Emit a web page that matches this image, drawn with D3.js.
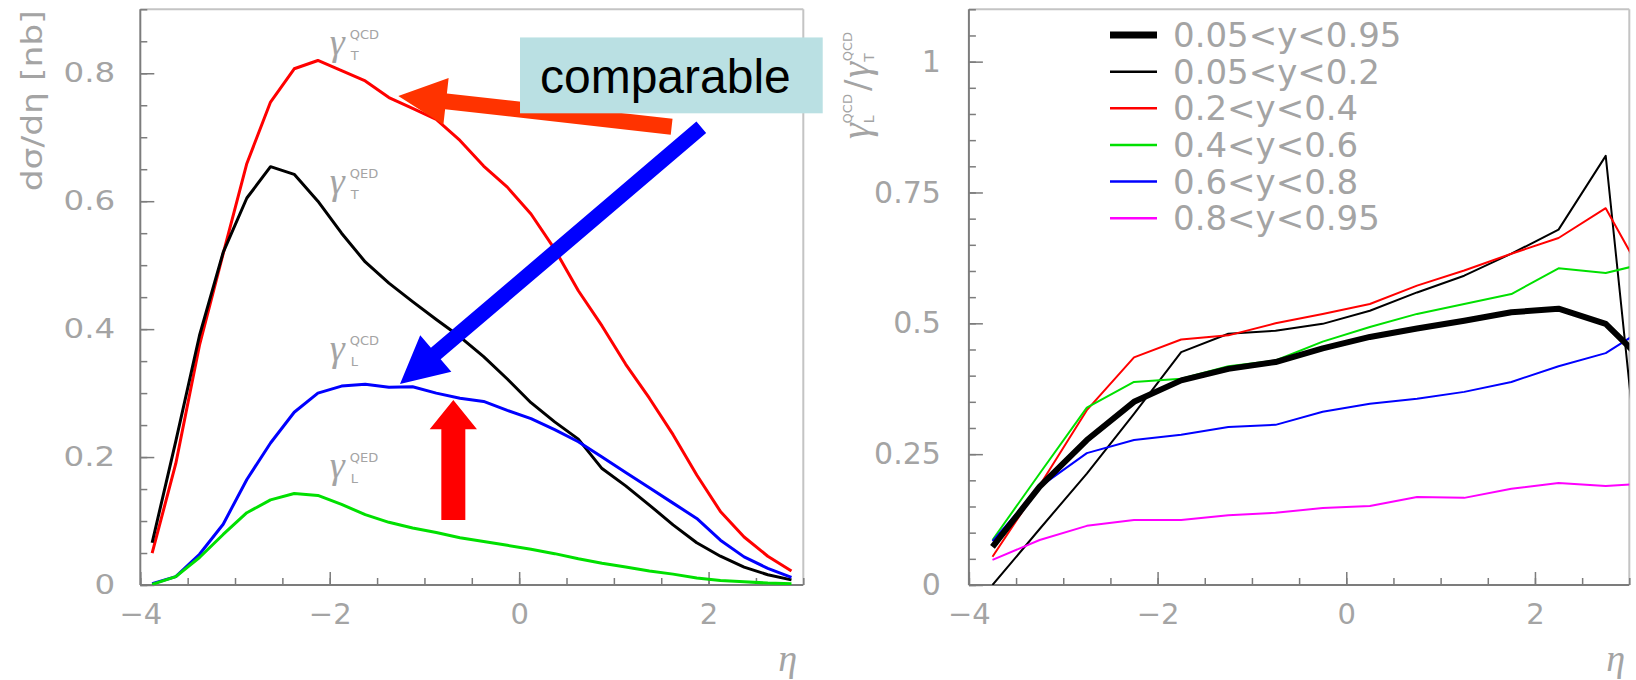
<!DOCTYPE html>
<html><head><meta charset="utf-8">
<script src="https://cdn.jsdelivr.net/npm/d3@7"></script>
<style>html,body{margin:0;padding:0;background:#fff;} svg{display:block;}</style>
</head><body>
<svg id="c" width="1636" height="680"></svg>
<script>
// ---------------- DATA ----------------
// Left panel: d sigma / d eta [nb] vs eta (bin centres)
const etaL = [-3.875,-3.625,-3.375,-3.125,-2.875,-2.625,-2.375,-2.125,-1.875,-1.625,-1.375,-1.125,-0.875,-0.625,-0.375,-0.125,0.125,0.375,0.625,0.875,1.125,1.375,1.625,1.875,2.125,2.375,2.625,2.875];
const gammaT_QCD = [0.05,0.19,0.375,0.518,0.659,0.755,0.807,0.82,0.804,0.788,0.762,0.745,0.728,0.695,0.655,0.622,0.58,0.525,0.46,0.405,0.345,0.292,0.235,0.172,0.115,0.075,0.045,0.022];
const gammaT_QED = [0.066,0.225,0.39,0.52,0.605,0.654,0.642,0.60,0.55,0.505,0.472,0.443,0.415,0.388,0.357,0.322,0.285,0.255,0.228,0.182,0.155,0.125,0.094,0.066,0.045,0.028,0.016,0.008];
const gammaL_QCD = [0.002,0.013,0.048,0.095,0.165,0.222,0.27,0.30,0.311,0.314,0.309,0.31,0.30,0.292,0.287,0.273,0.26,0.243,0.224,0.20,0.176,0.152,0.128,0.104,0.07,0.044,0.026,0.012];
const gammaL_QED = [0.001,0.013,0.043,0.079,0.113,0.133,0.143,0.14,0.126,0.11,0.098,0.089,0.082,0.074,0.068,0.062,0.056,0.049,0.041,0.034,0.028,0.022,0.017,0.011,0.007,0.005,0.003,0.002];
const curveNamesL = ["T_QCD","T_QED","L_QCD","L_QED"];
const curveLabelSub = ["T","T","L","L"];
const curveLabelSup = ["QCD","QED","QCD","QED"];

// Right panel: ratio gamma_L^QCD / gamma_T^QCD for y bins
const etaR = [-3.75,-3.25,-2.75,-2.25,-1.75,-1.25,-0.75,-0.25,0.25,0.75,1.25,1.75,2.25,2.75,3.25];
const ratio_all   = [0.073,0.188,0.277,0.35,0.391,0.413,0.426,0.452,0.474,0.49,0.505,0.521,0.528,0.499,0.41];
const ratio_y005  = [0.0,0.107,0.213,0.327,0.445,0.48,0.486,0.499,0.524,0.559,0.591,0.633,0.679,0.82,-0.05];
const ratio_y02   = [0.054,0.19,0.334,0.435,0.469,0.477,0.50,0.518,0.537,0.572,0.601,0.633,0.663,0.72,0.558];
const ratio_y04   = [0.086,0.213,0.339,0.388,0.394,0.418,0.429,0.465,0.493,0.518,0.537,0.556,0.605,0.596,0.618];
const ratio_y06   = [0.084,0.1875,0.252,0.277,0.287,0.302,0.306,0.331,0.3465,0.356,0.369,0.388,0.418,0.443,0.50];
const ratio_y08   = [0.048,0.086,0.113,0.124,0.124,0.1335,0.138,0.147,0.151,0.168,0.1665,0.184,0.195,0.189,0.195];
const legendLabels = ["0.05<y<0.95","0.05<y<0.2","0.2<y<0.4","0.4<y<0.6","0.6<y<0.8","0.8<y<0.95"];

// Axes / tick labels
const xDomain = [-4, 3];
const xMajorTicks = [-4, -2, 0, 2];
const yDomainL = [0, 0.9];
const yMajorTicksL = [0, 0.2, 0.4, 0.6, 0.8];
const yDomainR = [0, 1.1];
const yMajorTicksR = [0, 0.25, 0.5, 0.75, 1];
const annotationText = "comparable";

// ---------------- DRAWING ----------------
const svg = d3.select("#c");
const TXT = "#a4a4a4";
const AX = "#7c7c7c";
const FR = "#c4c4c4";

const PL = {x0:140.3, x1:803.3, y0:585, y1:9.3};
const PR = {x0:968.9, x1:1629.3, y0:585, y1:9.3};

const xL = d3.scaleLinear().domain(xDomain).range([PL.x0, PL.x1]);
const yL = d3.scaleLinear().domain(yDomainL).range([PL.y0, PL.y1]);
const xR = d3.scaleLinear().domain(xDomain).range([PR.x0, PR.x1]);
const yR = d3.scaleLinear().domain(yDomainR).range([PR.y0, PR.y1]);

const defs = svg.append("defs");
function clip(id, P){
  defs.append("clipPath").attr("id", id).append("rect")
    .attr("x", P.x0).attr("y", P.y1).attr("width", P.x1-P.x0).attr("height", P.y0-P.y1);
}
clip("clipL", PL); clip("clipR", PR);

function drawFrame(P){
  svg.append("line").attr("x1",P.x0).attr("x2",P.x1).attr("y1",P.y1).attr("y2",P.y1)
    .attr("stroke",FR).attr("stroke-width",2);
  svg.append("line").attr("x1",P.x1).attr("x2",P.x1).attr("y1",P.y1).attr("y2",P.y0)
    .attr("stroke",FR).attr("stroke-width",2);
}

function drawAxes(x, y, P, yMajor, yMinorStep, yLabelFont, yLabelScale, yPad, yFmt){
  const xMinor = d3.range(xDomain[0], xDomain[1]+1e-9, 0.5);
  const yMinor = d3.range(y.domain()[0], y.domain()[1]+1e-9, yMinorStep);
  const gxm = svg.append("g").attr("transform",`translate(0,${P.y0})`)
    .call(d3.axisBottom(x).tickValues(xMinor).tickSize(-7).tickFormat(""));
  gxm.select(".domain").remove();
  const gym = svg.append("g").attr("transform",`translate(${P.x0},0)`)
    .call(d3.axisLeft(y).tickValues(yMinor).tickSize(-7).tickFormat(""));
  gym.select(".domain").remove();
  const gx = svg.append("g").attr("transform",`translate(0,${P.y0})`)
    .call(d3.axisBottom(x).tickValues(xMajorTicks).tickSizeInner(-13).tickSizeOuter(0)
      .tickPadding(18).tickFormat(d3.format("")));
  gx.select(".domain").remove();
  const gy = svg.append("g").attr("transform",`translate(${P.x0},0)`)
    .call(d3.axisLeft(y).tickValues(yMajor).tickSizeInner(-14).tickSizeOuter(0)
      .tickPadding(yPad).tickFormat(yFmt));
  gy.select(".domain").remove();
  [gxm,gym,gx,gy].forEach(g=>g.selectAll("line").attr("stroke",AX).attr("stroke-width",1.5));
  gx.selectAll("text").attr("fill",TXT).attr("font-family","DejaVu Sans").attr("font-size",29);
  gy.selectAll("text").attr("fill",TXT).attr("font-family","DejaVu Sans").attr("font-size",yLabelFont)
    .attr("x",0).attr("transform",`translate(${-yPad},0) scale(${yLabelScale[0]},${yLabelScale[1]})`);
  svg.append("line").attr("x1",P.x0).attr("x2",P.x1).attr("y1",P.y0).attr("y2",P.y0)
    .attr("stroke",AX).attr("stroke-width",2);
  svg.append("line").attr("x1",P.x0).attr("x2",P.x0).attr("y1",P.y0).attr("y2",P.y1)
    .attr("stroke",AX).attr("stroke-width",2);
}

drawFrame(PL); drawFrame(PR);
drawAxes(xL, yL, PL, yMajorTicksL, 0.05, 26, [1.25,1], 25, d3.format("~g"));
drawAxes(xR, yR, PR, yMajorTicksR, 0.05, 30, [1,1], 28, d3.format("~g"));

// eta axis titles
function etaTitle(xp, yp){
  svg.append("text").attr("x",xp).attr("y",yp).text("η")
    .attr("font-family","Liberation Serif").attr("font-style","italic")
    .attr("font-size",38).attr("fill",TXT);
}
etaTitle(xL(3)-25, 671);
etaTitle(xR(3)-23, 671);

// left y title
svg.append("text").attr("transform",`translate(41.5,${PL.y1+182}) rotate(-90)`)
  .attr("font-family","DejaVu Sans").attr("font-size",28).attr("fill",TXT)
  .attr("textLength",181).attr("lengthAdjust","spacingAndGlyphs")
  .text("dσ/dη [nb]");

// right y title
{
  const t = svg.append("text").attr("transform",`translate(869,139) rotate(-90)`)
    .attr("fill",TXT).attr("font-family","DejaVu Sans");
  t.append("tspan").attr("font-family","Liberation Serif").attr("font-style","italic").attr("font-size",40).text("γ");
  t.append("tspan").attr("font-size",14).attr("dy",5).text("L");
  t.append("tspan").attr("font-size",13).attr("dx",-8).attr("dy",-22).text("QCD");
  t.append("tspan").attr("font-size",34).attr("dx",3).attr("dy",17).text("/");
  t.append("tspan").attr("font-family","Liberation Serif").attr("font-style","italic").attr("font-size",40).attr("dx",2).text("γ");
  t.append("tspan").attr("font-size",14).attr("dy",5).text("T");
  t.append("tspan").attr("font-size",13).attr("dx",-8).attr("dy",-22).text("QCD");
}

// ---- Left curves
const colorsL = ["#ff0000","#000000","#0000ff","#00e000"];
const seriesL = [gammaT_QCD, gammaT_QED, gammaL_QCD, gammaL_QED];
const lineL = d3.line().x((d,i)=>xL(etaL[i])).y(d=>yL(d));
const gL = svg.append("g").attr("clip-path","url(#clipL)");
seriesL.forEach((s,k)=>{
  gL.append("path").attr("d",lineL(s)).attr("fill","none").attr("stroke",colorsL[k])
    .attr("stroke-width",3).attr("stroke-linejoin","round");
});

// curve labels
const labelAnchor = [0.8293, 0.611, 0.3505, 0.168];
curveNamesL.forEach((n,k)=>{
  const x0 = xL(-2), y0 = yL(labelAnchor[k]);
  svg.append("text").attr("x",x0).attr("y",y0).text("γ")
    .attr("font-family","Liberation Serif").attr("font-style","italic").attr("font-size",38).attr("fill",TXT);
  svg.append("text").attr("x",x0+21).attr("y",y0+5).text(curveLabelSub[k])
    .attr("font-family","DejaVu Sans").attr("font-size",13).attr("fill",TXT);
  svg.append("text").attr("x",x0+20).attr("y",y0-16).text(curveLabelSup[k])
    .attr("font-family","DejaVu Sans").attr("font-size",13).attr("fill",TXT);
});

// ---- Right curves
const seriesR = [ratio_all, ratio_y005, ratio_y02, ratio_y04, ratio_y06, ratio_y08];
const colorsR = ["#000000","#000000","#ff0000","#00e000","#0000ff","#ff00ff"];
const widthsR = [6, 2, 2, 2, 2, 2];
const lineR = d3.line().x((d,i)=>xR(etaR[i])).y(d=>yR(d));
const gR = svg.append("g").attr("clip-path","url(#clipR)");
[1,2,3,4,5,0].forEach(k=>{
  gR.append("path").attr("d",lineR(seriesR[k])).attr("fill","none").attr("stroke",colorsR[k])
    .attr("stroke-width",widthsR[k]).attr("stroke-linejoin","round");
});

// legend
legendLabels.forEach((lab,k)=>{
  const yy = 35 + k*36.65;
  svg.append("line").attr("x1",1110).attr("x2",1157).attr("y1",yy).attr("y2",yy)
    .attr("stroke",colorsR[k]).attr("stroke-width", k===0 ? 7 : 2.5);
  svg.append("text").attr("x",1173).attr("y",yy+12).text(lab)
    .attr("font-family","DejaVu Sans").attr("font-size",34).attr("fill",TXT);
});

// ---- Annotations (in left-panel data coordinates)
function arrow(tail, tip, w, hl, hw, color){
  const T = [xL(tail[0]), yL(tail[1])], P = [xL(tip[0]), yL(tip[1])];
  const dx = P[0]-T[0], dy = P[1]-T[1], len = Math.hypot(dx,dy);
  const u = [dx/len, dy/len], n = [-u[1], u[0]];
  const B = [P[0]-u[0]*hl, P[1]-u[1]*hl];
  const pts = [
    [T[0]+n[0]*w/2, T[1]+n[1]*w/2],
    [B[0]+n[0]*w/2, B[1]+n[1]*w/2],
    [B[0]+n[0]*hw/2, B[1]+n[1]*hw/2],
    P,
    [B[0]-n[0]*hw/2, B[1]-n[1]*hw/2],
    [B[0]-n[0]*w/2, B[1]-n[1]*w/2],
    [T[0]-n[0]*w/2, T[1]-n[1]*w/2]
  ];
  svg.append("polygon").attr("points", pts.map(p=>p.join(",")).join(" ")).attr("fill",color);
}
arrow([1.61,0.7165],[-1.276,0.7645],16,48,47,"#ff3300");
svg.append("rect").attr("x",xL(0.009)).attr("y",yL(0.856))
  .attr("width",xL(3.205)-xL(0.009)).attr("height",yL(0.7374)-yL(0.856)).attr("fill","#bae0e3");
svg.append("text").attr("x",xL(0.22)).attr("y",yL(0.769)).text(annotationText)
  .attr("font-family","Liberation Sans").attr("font-size",48).attr("fill","#000");
arrow([1.923,0.7155],[-1.258,0.3142],15,47,48,"#0000ff");
arrow([-0.695,0.1016],[-0.695,0.2892],24,29.3,47.3,"#ff0000");
</script>
</body></html>
